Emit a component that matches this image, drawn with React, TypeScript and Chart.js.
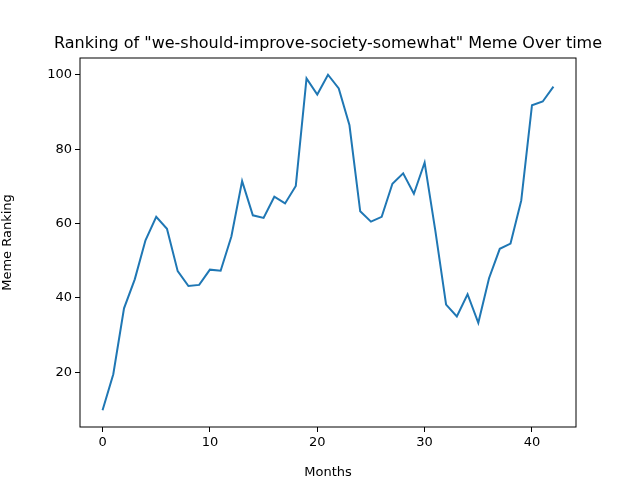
import React, { useEffect, useRef } from "react";
import { Chart, registerables } from "chart.js";
Chart.register(...registerables);

const months: number[] = Array.from({ length: 43 }, (_, i) => i);
const ranking: number[] = [9.8, 19.5, 37.2, 45, 55.5, 61.8, 58.6, 47.2, 43.2, 43.5, 47.6, 47.3, 56.5, 71.4, 62.2, 61.5, 67.2, 65.4, 70.1, 99, 94.7, 100, 96.3, 86.4, 63.3, 60.5, 61.8, 70.7, 73.5, 68, 76.4, 58, 38.2, 35, 41, 33.3, 45.3, 53.2, 54.6, 66.2, 91.8, 92.8, 96.8];
const title = 'Ranking of "we-should-improve-society-somewhat" Meme Over time';

export default function App() {
  const ref = useRef<HTMLCanvasElement>(null);
  useEffect(() => {
    document.body.style.margin = "0";
    const font = "'DejaVu Sans'";
    const frame = {
      id: "frame",
      afterDraw(c: any) {
        const { ctx, chartArea: a } = c;
        ctx.save();
        ctx.strokeStyle = "#000";
        ctx.lineWidth = 1;
        ctx.strokeRect(a.left, a.top, a.right - a.left, a.bottom - a.top);
        ctx.fillStyle = "#000";
        ctx.font = `16px ${font}`;
        ctx.textAlign = "center";
        ctx.textBaseline = "bottom";
        ctx.fillText(title, (a.left + a.right) / 2, a.top - 6);
        ctx.restore();
      },
    };
    const tickCfg = { color: "#000", font: { family: font, size: 13 } };
    const grid = { drawOnChartArea: false, drawTicks: true, tickLength: 5, color: "#000" };
    const chart = new Chart(ref.current!, {
      type: "line",
      data: {
        datasets: [{
          data: months.map((m, i) => ({ x: m, y: ranking[i] })),
          borderColor: "#1f77b4", borderWidth: 2, pointRadius: 0, tension: 0,
        }],
      },
      options: {
        animation: false, responsive: false,
        layout: { padding: { top: 58, right: 64, left: 0, bottom: 0 } },
        plugins: { legend: { display: false }, tooltip: { enabled: false } },
        scales: {
          x: {
            type: "linear", min: -2.1, max: 44.1,
            ticks: { ...tickCfg, stepSize: 10 },
            grid, border: { display: false },
            afterBuildTicks: (s: any) => { s.ticks = [0, 10, 20, 30, 40].map(v => ({ value: v })); },
            afterFit: (s: any) => { s.height = 53; },
            title: { display: true, text: "Months", color: "#000", font: { family: font, size: 13 }, padding: 0 },
          },
          y: {
            min: 5.3, max: 104.5,
            ticks: { ...tickCfg, stepSize: 20 },
            grid, border: { display: false },
            afterBuildTicks: (s: any) => { s.ticks = [20, 40, 60, 80, 100].map(v => ({ value: v })); },
            afterFit: (s: any) => { s.width = 80; },
            title: { display: true, text: "Meme Ranking", color: "#000", font: { family: font, size: 13 }, padding: 0 },
          },
        },
      },
      plugins: [frame],
    } as any);
    return () => chart.destroy();
  }, []);
  return <canvas ref={ref} width={640} height={480} style={{ display: "block" }} />;
}
